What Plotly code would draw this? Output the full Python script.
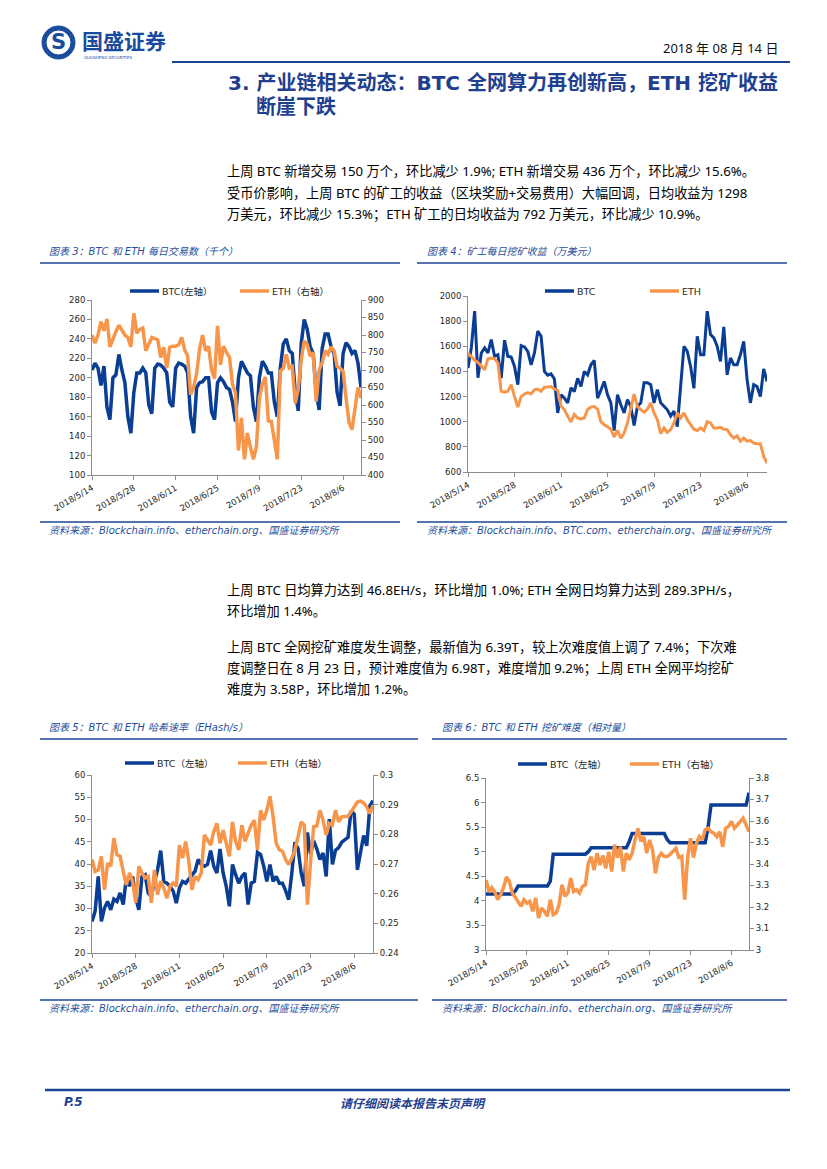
import plotly.graph_objects as go
import pandas as pd

W, H = 827, 1169
OFF = 8  # page body margin compensation

# ---------------- data ----------------
DATES = pd.date_range("2018-05-14", periods=91, freq="D")
TICK_LABELS = ["2018/5/14", "2018/5/28", "2018/6/11", "2018/6/25", "2018/7/9", "2018/7/23", "2018/8/6"]

# Chart 3: daily transactions (thousand)
TX_BTC = [208, 215, 210, 192, 212, 170, 157,
          200, 203, 224, 208, 195, 160, 143,
          185, 205, 205, 210, 205, 172, 163,
          210, 214, 213, 210, 205, 175, 170,
          210, 215, 214, 212, 205, 160, 143,
          190, 195, 196, 200, 200, 165, 157,
          195, 200, 196, 190, 188, 175, 155,
          200, 217, 210, 205, 202, 170, 155,
          200, 217, 212, 205, 205, 175, 160,
          210, 235, 240, 228, 225, 185, 166,
          235, 260, 250, 232, 225, 185, 167,
          230, 245, 245, 232, 225, 185, 171,
          225, 236, 232, 225, 228, 215, 190]
TX_ETH = [800, 777, 800, 838, 812, 846, 766, 790, 810, 828,
          815, 800, 793, 766, 862, 805, 816, 820, 755, 775,
          793, 790, 786, 736, 765, 706, 765, 768, 768, 772,
          793, 758, 740, 630, 650, 690, 760, 800, 755, 768,
          700, 675, 826, 715, 768, 750, 736, 660, 635, 470,
          563, 445, 520, 480, 445, 480, 620, 660, 680, 555,
          553, 500, 445, 697, 705, 745, 706, 710, 605, 645,
          730, 783, 773, 740, 750, 610, 700, 720, 755, 745,
          766, 755, 710, 705, 697, 620, 550, 530, 590, 650, 620]

# Chart 4: daily mining revenue (10k USD)
REV_BTC = [1427, 1587, 1880, 1350, 1547, 1587, 1547, 1653, 1520, 1533,
           1347, 1648, 1520, 1515, 1440, 1295, 1605, 1595, 1560, 1453,
           1547, 1720, 1680, 1400, 1370, 1380, 1340, 1070, 1215, 1188,
           1150, 1270, 1240, 1345, 1280, 1400, 1373, 1453, 1488, 1188,
           1250, 1320, 1215, 1150, 930, 1215, 1135, 1070, 1175, 1122,
           970, 1122, 1150, 1310, 1310, 1295, 1150, 1255, 1150, 1122,
           1095, 1045, 1085, 960, 1255, 1600, 1560, 1440, 1265, 1680,
           1533, 1533, 1880, 1693, 1667, 1600, 1480, 1755, 1373, 1507,
           1453, 1453, 1533, 1640, 1335, 1150, 1295, 1280, 1200, 1420, 1320]
REV_ETH = [1547, 1515, 1488, 1472, 1440, 1413, 1500, 1507, 1500, 1467,
           1242, 1234, 1242, 1295, 1200, 1116, 1200, 1220, 1232, 1222,
           1253, 1260, 1242, 1274, 1276, 1280, 1260, 1250, 1124, 1097,
           1045, 998, 1058, 1030, 1022, 1030, 1097, 1116, 1120, 1100,
           1000, 975, 960, 940, 880, 930, 870, 910, 990, 1097,
           1220, 1120, 1100, 1075, 1100, 1150, 1070, 1016, 905, 950,
           915, 937, 990, 1070, 1030, 1070, 1016, 975, 940, 930,
           950, 930, 1000, 990, 950, 950, 955, 940, 937, 895,
           870, 887, 845, 870, 845, 850, 830, 825, 825, 725, 670]

# Chart 5: hash rate
HASH_BTC = [27.1, 29.4, 37.2, 27.1, 30.1, 31.6, 29.7, 32.1, 31.6, 33.5,
            30.9, 36.9, 35.0, 37.2, 32.4, 29.7, 37.2, 37.6, 33.5, 32.7,
            36.1, 38.7, 43.0, 36.1, 35.7, 35.0, 33.9, 31.2, 34.6, 36.1,
            35.7, 36.5, 37.6, 38.4, 41.0, 39.9, 39.5, 39.9, 43.0, 39.5,
            38.0, 43.4, 38.0, 35.0, 30.5, 39.9, 37.6, 35.7, 37.2, 38.0,
            30.9, 35.7, 36.1, 42.6, 42.1, 39.5, 36.1, 39.9, 36.1, 37.2,
            35.7, 35.7, 34.0, 32.0, 38.0, 44.9, 43.4, 38.0, 35.0, 47.1,
            42.2, 45.2, 43.4, 41.0, 42.5, 37.2, 50.1, 39.9, 43.1, 43.7,
            44.9, 45.5, 46.0, 52.0, 51.2, 38.7, 43.0, 46.4, 44.1, 53.1, 54.2]
HASH_ETH = [0.2715, 0.2675, 0.2680, 0.2726, 0.2613, 0.2703, 0.2692, 0.2787, 0.2731, 0.2726,
            0.2675, 0.2630, 0.2670, 0.2642, 0.2569, 0.2692, 0.2670, 0.2653, 0.2658, 0.2569,
            0.2680, 0.2597, 0.2642, 0.2619, 0.2585, 0.2625, 0.2636, 0.2625, 0.2764, 0.2720,
            0.2776, 0.2709, 0.2613, 0.2658, 0.2647, 0.2670, 0.2798, 0.2781, 0.2764, 0.2809,
            0.2837, 0.2770, 0.2814, 0.2770, 0.2726, 0.2842, 0.2776, 0.2748, 0.2831, 0.2776,
            0.2803, 0.2831, 0.2848, 0.2748, 0.2881, 0.2848, 0.2881, 0.2928, 0.2859, 0.2770,
            0.2748, 0.2743, 0.2715, 0.2698, 0.2720, 0.2748, 0.2792, 0.2842, 0.2831, 0.2563,
            0.2709, 0.2826, 0.2828, 0.2881, 0.2848, 0.2798, 0.2837, 0.2831, 0.2881, 0.2842,
            0.2859, 0.2861, 0.2861, 0.2876, 0.2892, 0.2909, 0.2912, 0.2906, 0.2892, 0.2870, 0.2898]

# Chart 6: mining difficulty
DIFF_BTC = [4.14, 4.14, 4.14, 4.14, 4.14, 4.14, 4.14, 4.14, 4.14, 4.14,
            4.20, 4.30, 4.30, 4.30, 4.30, 4.30, 4.30, 4.30, 4.30, 4.30,
            4.30, 4.30, 4.40, 4.95, 4.95, 4.95, 4.95, 4.95, 4.95, 4.95,
            4.95, 4.95, 4.95, 4.95, 4.95, 5.00, 5.08, 5.08, 5.08, 5.08,
            5.08, 5.08, 5.08, 5.08, 5.08, 5.08, 5.08, 5.08, 5.08, 5.20,
            5.37, 5.37, 5.37, 5.37, 5.37, 5.37, 5.37, 5.37, 5.37, 5.37,
            5.37, 5.37, 5.25, 5.18, 5.18, 5.18, 5.18, 5.18, 5.18, 5.18,
            5.18, 5.18, 5.18, 5.18, 5.18, 5.18, 5.50, 5.95, 5.95, 5.95,
            5.95, 5.95, 5.95, 5.95, 5.95, 5.95, 5.95, 5.95, 5.95, 5.95, 6.20]
DIFF_ETH = [3.326, 3.270, 3.290, 3.270, 3.234, 3.257, 3.290, 3.340, 3.318, 3.265,
            3.245, 3.226, 3.203, 3.234, 3.218, 3.226, 3.180, 3.242, 3.149, 3.195,
            3.180, 3.157, 3.234, 3.165, 3.172, 3.210, 3.303, 3.250, 3.265, 3.334,
            3.272, 3.280, 3.265, 3.295, 3.303, 3.403, 3.434, 3.372, 3.450, 3.395,
            3.440, 3.380, 3.457, 3.365, 3.490, 3.430, 3.480, 3.365, 3.450, 3.420,
            3.450, 3.512, 3.566, 3.505, 3.527, 3.450, 3.512, 3.466, 3.357, 3.430,
            3.450, 3.435, 3.435, 3.445, 3.458, 3.473, 3.430, 3.435, 3.234, 3.430,
            3.520, 3.430, 3.497, 3.527, 3.512, 3.559, 3.566, 3.550, 3.543, 3.527,
            3.550, 3.480, 3.566, 3.574, 3.598, 3.566, 3.582, 3.600, 3.613, 3.582, 3.550]

# ---------------- style ----------------
BLUE = "#0a3d94"
ORANGE = "#f7964a"
DARKBLUE = "#1c4591"
AXIS = "#8c8c8c"
CJK = "Noto Sans CJK SC"
MIX = "DejaVu Sans, Noto Sans CJK SC"
BODY = "Noto Sans, Noto Sans CJK SC"
TICKFONT = dict(family="DejaVu Sans", size=8.5, color="#262626")


def fx(x):
    return (x - OFF) / W


def fy(y):
    return 1 - (y - OFF) / H


fig = go.Figure()

TICKVALS = [pd.Timestamp(t.replace("/", "-")) for t in TICK_LABELS]


def xaxis_cfg(x0, x1, anchor):
    return dict(domain=[fx(x0), fx(x1)], anchor=anchor, type="date",
                range=[DATES[0], DATES[-1]], tickvals=TICKVALS, ticktext=TICK_LABELS,
                tickangle=-30, showline=True, linecolor=AXIS, linewidth=1,
                ticks="outside", ticklen=4, tickcolor=AXIS, showgrid=False,
                zeroline=False, tickfont=TICKFONT, automargin=False)


def yaxis_cfg(y_top, y_bot, anchor, rng, dtick, side="left", overlay=None):
    d = dict(anchor=anchor, range=rng, dtick=dtick, tick0=rng[0], side=side,
             showline=True, linecolor=AXIS, linewidth=1, ticks="outside",
             ticklen=4, tickcolor=AXIS, showgrid=False, zeroline=False,
             tickfont=TICKFONT, automargin=False)
    if overlay:
        d["overlaying"] = overlay
    else:
        d["domain"] = [fy(y_bot), fy(y_top)]
    return d


def line_trace(y, color, xa, ya, width):
    return go.Scatter(x=DATES, y=y, mode="lines", xaxis=xa, yaxis=ya,
                      line=dict(color=color, width=width), showlegend=False,
                      hoverinfo="skip")


# Chart 3
fig.add_trace(line_trace(TX_BTC, BLUE, "x", "y", 3.5))
fig.add_trace(line_trace(TX_ETH, ORANGE, "x", "y2", 3.5))
# Chart 4
fig.add_trace(line_trace(REV_BTC, BLUE, "x2", "y3", 3))
fig.add_trace(line_trace(REV_ETH, ORANGE, "x2", "y3", 3))
# Chart 5
fig.add_trace(line_trace(HASH_BTC, BLUE, "x3", "y4", 3.5))
fig.add_trace(line_trace(HASH_ETH, ORANGE, "x3", "y5", 3.5))
# Chart 6
fig.add_trace(line_trace(DIFF_BTC, BLUE, "x4", "y6", 3.5))
fig.add_trace(line_trace(DIFF_ETH, ORANGE, "x4", "y7", 3.5))

layout = dict(
    template="none",
    width=W, height=H, margin=dict(l=0, r=0, t=0, b=0, pad=0), autosize=False,
    paper_bgcolor="white", plot_bgcolor="white", showlegend=False,
    xaxis=xaxis_cfg(92, 361, "y"),
    yaxis=yaxis_cfg(300, 475, "x", [100, 280], 20),
    yaxis2=yaxis_cfg(300, 475, "x", [400, 900], 50, side="right", overlay="y"),
    xaxis2=xaxis_cfg(468, 767, "y3"),
    yaxis3=yaxis_cfg(296, 472, "x2", [600, 2000], 200),
    xaxis3=xaxis_cfg(92, 373, "y4"),
    yaxis4=yaxis_cfg(775, 953, "x3", [20, 60], 5),
    yaxis5=yaxis_cfg(775, 953, "x3", [0.24, 0.30], 0.01, side="right", overlay="y4"),
    xaxis4=xaxis_cfg(486, 749, "y6"),
    yaxis6=yaxis_cfg(778, 950, "x4", [3, 6.5], 0.5),
    yaxis7=yaxis_cfg(778, 950, "x4", [3, 3.8], 0.1, side="right", overlay="y6"),
)
fig.update_layout(**layout)

shapes = []
annos = []


def hline(x0, x1, y, color=DARKBLUE, width=1.5):
    shapes.append(dict(type="line", xref="paper", yref="paper", x0=fx(x0), x1=fx(x1),
                       y0=fy(y), y1=fy(y), line=dict(color=color, width=width)))


def text(x, y, s, size, color="#000000", family=MIX, anchor="left", bold=False, italic=False):
    if bold:
        s = "<b>" + s + "</b>"
    if italic:
        s = "<i>" + s + "</i>"
    annos.append(dict(x=fx(x), y=fy(y), xref="paper", yref="paper", text=s,
                      showarrow=False, xanchor=anchor, yanchor="middle",
                      font=dict(size=size, color=color, family=family)))


# Header: logo
LOGO = "#1a4c9e"
shapes.append(dict(type="circle", xref="paper", yref="paper",
                   x0=fx(42), x1=fx(75), y0=fy(59), y1=fy(26),
                   fillcolor=LOGO, line=dict(color=LOGO, width=1)))
shapes.append(dict(type="circle", xref="paper", yref="paper",
                   x0=fx(47), x1=fx(70), y0=fy(54), y1=fy(31),
                   fillcolor="white", line=dict(color="white", width=1)))
text(58.5, 42.5, "S", 21, color=LOGO, family="DejaVu Sans", anchor="center", bold=True)
text(80, 40, "国盛证券", 21, color=LOGO, family=CJK, bold=True)
text(82, 57, "GUOSHENG SECURITIES", 4, color=LOGO, family="DejaVu Sans")
text(780, 48, "2018 年 08 月 14 日", 13, color="#111111", family=BODY, anchor="right")
hline(172, 790, 62, color=DARKBLUE, width=2)

# Section title
TITLE1 = "3. 产业链相关动态：BTC 全网算力再创新高，ETH 挖矿收益"
TITLE2 = "断崖下跌"
text(226, 83, TITLE1, 20, color="#1f3f8f", bold=True)
text(254, 107, TITLE2, 20, color="#1f3f8f", bold=True)

# Paragraph 1
P1 = ["上周 BTC 新增交易 150 万个，环比减少 1.9%; ETH 新增交易 436 万个，环比减少 15.6%。",
      "受币价影响，上周 BTC 的矿工的收益（区块奖励+交易费用）大幅回调，日均收益为 1298",
      "万美元，环比减少 15.3%；ETH 矿工的日均收益为 792 万美元，环比减少 10.9%。"]
for i, s in enumerate(P1):
    text(225, 171 + i * 21.5, s, 13.2, color="#000000", family=BODY)

# Paragraph 2 and 3
P2 = ["上周 BTC 日均算力达到 46.8EH/s，环比增加 1.0%; ETH 全网日均算力达到 289.3PH/s，",
      "环比增加 1.4%。"]
for i, s in enumerate(P2):
    text(225, 590 + i * 21, s, 13.2, color="#000000", family=BODY)
P3 = ["上周 BTC 全网挖矿难度发生调整，最新值为 6.39T，较上次难度值上调了 7.4%；下次难",
      "度调整日在 8 月 23 日，预计难度值为 6.98T，难度增加 9.2%；上周 ETH 全网平均挖矿",
      "难度为 3.58P，环比增加 1.2%。"]
for i, s in enumerate(P3):
    text(225, 647 + i * 21, s, 13.2, color="#000000", family=BODY)

# Chart captions and source lines
CAP_C = "#1f4e9a"
text(47, 251, "图表 3：BTC 和 ETH 每日交易数（千个）", 10, color=CAP_C, italic=True)
hline(40, 400, 263)
text(425, 251, "图表 4：矿工每日挖矿收益（万美元）", 10, color=CAP_C, italic=True)
hline(417, 787, 263)
hline(40, 400, 522)
text(47, 531, "资料来源：Blockchain.info、etherchain.org、国盛证券研究所", 10, color=CAP_C, italic=True)
hline(417, 787, 522)
text(425, 531, "资料来源：Blockchain.info、BTC.com、etherchain.org、国盛证券研究所", 10, color=CAP_C, italic=True)

text(47, 727, "图表 5：BTC 和 ETH 哈希速率（EHash/s）", 10, color=CAP_C, italic=True)
hline(40, 418, 739)
text(440, 727, "图表 6：BTC 和 ETH 挖矿难度（相对量）", 10, color=CAP_C, italic=True)
hline(432, 787, 739)
hline(40, 418, 1000)
text(47, 1008, "资料来源：Blockchain.info、etherchain.org、国盛证券研究所", 10, color=CAP_C, italic=True)
hline(432, 787, 1000)
text(440, 1008, "资料来源：Blockchain.info、etherchain.org、国盛证券研究所", 10, color=CAP_C, italic=True)


# Legends
def legend_item(x0, y, color, label):
    shapes.append(dict(type="line", xref="paper", yref="paper", x0=fx(x0), x1=fx(x0 + 29),
                       y0=fy(y), y1=fy(y), line=dict(color=color, width=3.5)))
    text(x0 + 30, y, label, 9.5, color="#262626")


legend_item(130, 291, BLUE, "BTC(左轴）")
legend_item(240, 291, ORANGE, "ETH（右轴）")
legend_item(545, 291, BLUE, "BTC")
legend_item(650, 291, ORANGE, "ETH")
legend_item(125, 763, BLUE, "BTC（左轴）")
legend_item(238, 763, ORANGE, "ETH（右轴）")
legend_item(518, 764, BLUE, "BTC（左轴）")
legend_item(630, 764, ORANGE, "ETH（右轴）")

# Footer
hline(45, 790, 1090, color=DARKBLUE, width=2.5)
text(62, 1102, "P.5", 12, color="#1f3f8f", family="DejaVu Sans", bold=True, italic=True)
text(413, 1102, "请仔细阅读本报告末页声明", 12, color="#1f3f8f", family=CJK, anchor="center", bold=True, italic=True)

fig.update_layout(shapes=shapes, annotations=annos)
fig.write_html("out.html")
